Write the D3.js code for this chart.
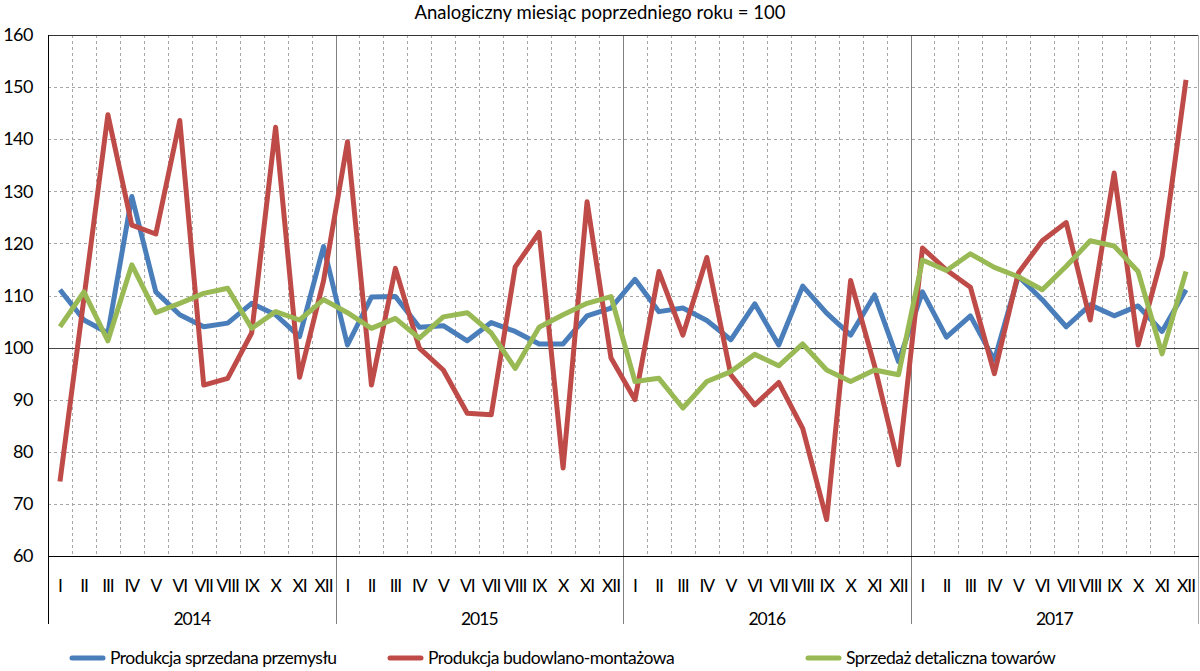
<!DOCTYPE html>
<html>
<head>
<meta charset="utf-8">
<script src="https://cdn.jsdelivr.net/npm/d3@7"></script>
<style>
body { margin: 0; background: #fff; }
text { font-family: Lato, "Open Sans", sans-serif; fill: #000; }
</style>
</head>
<body>
<script>
var months = ["I", "II", "III", "IV", "V", "VI", "VII", "VIII", "IX", "X", "XI", "XII"];
var years = ["2014", "2015", "2016", "2017"];
var yTicks = [60, 70, 80, 90, 100, 110, 120, 130, 140, 150, 160];

var industry = [
    111.1, 105.3, 102.8, 129.0, 110.7, 106.3, 104.0, 104.7, 108.5, 106.3, 102.1, 119.4,
    100.5, 109.7, 109.8, 103.9, 104.2, 101.3, 104.8, 103.1, 100.7, 100.7, 106.1, 107.6,
    113.1, 106.9, 107.6, 105.2, 101.5, 108.4, 100.5, 111.8, 106.6, 102.4, 110.1, 97.3,
    110.7, 102.0, 106.1, 97.6, 113.7, 109.2, 104.0, 108.2, 106.1, 108.0, 103.1, 111.1
];
var construction = [
    74.3, 109.5, 144.7, 123.5, 121.8, 143.6, 92.8, 94.1, 102.8, 142.3, 94.3, 112.8,
    139.5, 92.8, 115.2, 99.9, 95.7, 87.4, 87.1, 115.5, 122.1, 76.9, 128.0, 98.0,
    90.0, 114.6, 102.4, 117.3, 94.8, 89.0, 93.3, 84.5, 67.0, 112.9, 96.5, 77.5,
    119.1, 114.9, 111.6, 95.0, 114.3, 120.5, 124.0, 105.3, 133.5, 100.5, 117.5, 151.4
];
var retail = [
    104.0, 110.7, 101.3, 115.9, 106.7, 108.5, 110.4, 111.4, 103.7, 106.9, 105.3, 109.2,
    106.7, 103.7, 105.6, 101.8, 105.9, 106.7, 102.8, 96.0, 103.9, 106.3, 108.5, 109.8,
    93.5, 94.1, 88.4, 93.5, 95.4, 98.7, 96.5, 100.7, 95.7, 93.5, 95.7, 94.8,
    116.8, 114.8, 118.0, 115.4, 113.6, 111.1, 115.6, 120.5, 119.5, 114.6, 98.8, 114.6
];
var seriesNames = ["Produkcja sprzedana przemysłu", "Produkcja budowlano-montażowa", "Sprzedaż detaliczna towarów"];
var seriesColors = ["#4a7ebb", "#be4b48", "#98b954"];

var width = 1200, height = 671;
var plotLeft = 48, plotRight = 1198, plotTop = 35, plotBottom = 556, sepBottom = 624;

var svg = d3.select("body").append("svg")
    .attr("width", width)
    .attr("height", height);

// one band per month over all years
var keys = [];
years.forEach(function (yr) {
    months.forEach(function (m) { keys.push(yr + "-" + m); });
});

var x = d3.scaleBand()
    .domain(keys)
    .range([plotLeft, plotRight]);

var y = d3.scaleLinear()
    .domain([60, 160])
    .range([plotBottom, plotTop]);

// horizontal dashed grid
svg.append("g")
    .selectAll("line")
    .data(yTicks.filter(function (d) { return d != 60 && d != 100 && d != 160; }))
    .enter().append("line")
    .attr("x1", plotLeft).attr("x2", plotRight)
    .attr("y1", function (d) { return Math.round(y(d)) + 0.5; })
    .attr("y2", function (d) { return Math.round(y(d)) + 0.5; })
    .attr("stroke", "#a6a6a6")
    .attr("stroke-dasharray", "3,3");

// vertical dashed grid between months
svg.append("g")
    .selectAll("line")
    .data(keys.filter(function (d, i) { return i % 12 != 0; }))
    .enter().append("line")
    .attr("x1", function (d) { return Math.round(x(d)) + 0.5; })
    .attr("x2", function (d) { return Math.round(x(d)) + 0.5; })
    .attr("y1", plotTop).attr("y2", plotBottom)
    .attr("stroke", "#a6a6a6")
    .attr("stroke-dasharray", "3,3");

// year separators
svg.append("g")
    .selectAll("line")
    .data(years.slice(1))
    .enter().append("line")
    .attr("x1", function (d) { return Math.round(x(d + "-I")) + 0.5; })
    .attr("x2", function (d) { return Math.round(x(d + "-I")) + 0.5; })
    .attr("y1", plotTop).attr("y2", sepBottom)
    .attr("stroke", "#808080");

// frame
svg.append("line")
    .attr("x1", plotLeft).attr("x2", plotRight + 1)
    .attr("y1", plotTop + 0.5).attr("y2", plotTop + 0.5)
    .attr("stroke", "#333");
svg.append("line")
    .attr("x1", plotRight + 0.5).attr("x2", plotRight + 0.5)
    .attr("y1", plotTop).attr("y2", sepBottom)
    .attr("stroke", "#aaa");
svg.append("line")
    .attr("x1", plotLeft).attr("x2", plotRight + 1)
    .attr("y1", Math.round(y(100)) + 0.5).attr("y2", Math.round(y(100)) + 0.5)
    .attr("stroke", "#444");
svg.append("line")
    .attr("x1", plotLeft).attr("x2", plotRight + 1)
    .attr("y1", plotBottom + 0.5).attr("y2", plotBottom + 0.5)
    .attr("stroke", "#000");
svg.append("line")
    .attr("x1", plotLeft + 0.5).attr("x2", plotLeft + 0.5)
    .attr("y1", plotTop).attr("y2", sepBottom)
    .attr("stroke", "#000");

// y axis labels
var yAxis = svg.append("g")
    .attr("transform", "translate(" + (plotLeft - 15) + ",0)")
    .call(d3.axisLeft(y).tickValues(yTicks).tickSize(0).tickPadding(0));
yAxis.select(".domain").remove();
yAxis.selectAll("text")
    .attr("font-size", 18)
    .attr("letter-spacing", -0.5)
    .style("font-family", "Lato, sans-serif");

// month labels
svg.append("g")
    .selectAll("text")
    .data(keys)
    .enter().append("text")
    .attr("x", function (d) { return x(d) + x.bandwidth() / 2; })
    .attr("y", 592)
    .attr("text-anchor", "middle")
    .attr("font-size", 17.5)
    .attr("letter-spacing", -1.1)
    .text(function (d) { return d.split("-")[1]; });

// year labels
svg.append("g")
    .selectAll("text")
    .data(years)
    .enter().append("text")
    .attr("x", function (d) { return (x(d + "-I") + x(d + "-XII") + x.bandwidth()) / 2; })
    .attr("y", 625)
    .attr("text-anchor", "middle")
    .attr("font-size", 17.5)
    .attr("letter-spacing", -1)
    .text(function (d) { return d; });

// title
svg.append("text")
    .attr("x", 600)
    .attr("y", 19)
    .attr("text-anchor", "middle")
    .attr("font-size", 18.5)
    .text("Analogiczny miesiąc poprzedniego roku = 100");

// lines
var line = d3.line()
    .x(function (d, i) { return x(keys[i]) + x.bandwidth() / 2; })
    .y(function (d) { return y(d); });

[industry, construction, retail].forEach(function (s, k) {
    svg.append("path")
        .datum(s)
        .attr("fill", "none")
        .attr("stroke", seriesColors[k])
        .attr("stroke-width", 5)
        .attr("stroke-linejoin", "round")
        .attr("d", line);
});

// legend
var legendX = [72, 390, 808];
var lg = svg.append("g")
    .selectAll("g")
    .data(seriesNames)
    .enter().append("g")
    .attr("transform", function (d, i) { return "translate(" + legendX[i] + ",658)"; });
lg.append("line")
    .attr("x1", 0).attr("x2", 31)
    .attr("y1", 0).attr("y2", 0)
    .attr("stroke", function (d, i) { return seriesColors[i]; })
    .attr("stroke-width", 5)
    .attr("stroke-linecap", "round");
lg.append("text")
    .attr("x", 38)
    .attr("y", 6)
    .attr("font-size", 17.5)
    .attr("letter-spacing", -0.5)
    .text(function (d) { return d; });
</script>
</body>
</html>
